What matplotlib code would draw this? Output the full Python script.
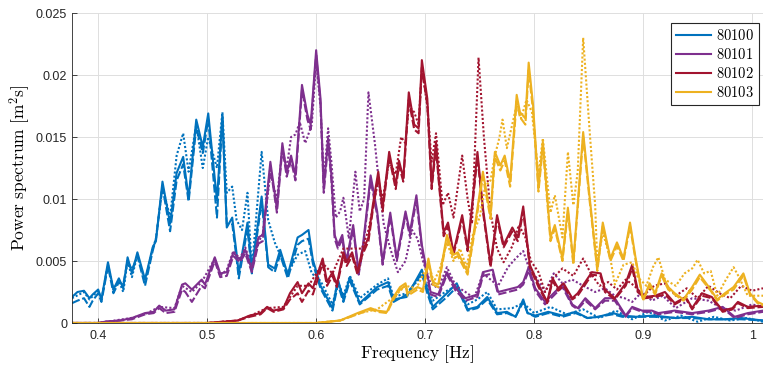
import matplotlib
matplotlib.use('Agg')
import matplotlib.pyplot as plt
from matplotlib.lines import Line2D

plt.rcParams['mathtext.fontset'] = 'cm'
plt.rcParams['font.family'] = ['Liberation Sans', 'DejaVu Sans']

labels = ['80100', '80101', '80102', '80103']
colors = ['#0072BD', '#7E2F8E', '#A2142F', '#EDB120']

x_ticks = [0.4, 0.5, 0.6, 0.7, 0.8, 0.9, 1.0]
x_tick_labels = ['0.4', '0.5', '0.6', '0.7', '0.8', '0.9', '1']
y_ticks = [0, 0.005, 0.01, 0.015, 0.02, 0.025]
y_tick_labels = ['0', '0.005', '0.01', '0.015', '0.02', '0.025']

# ---------------- 80100 ----------------
s80100_solid = [
    (0.376, 0.0021), (0.381, 0.0025), (0.387, 0.0026), (0.392, 0.0020), (0.395, 0.0023),
    (0.400, 0.0027), (0.403, 0.0019), (0.409, 0.0049), (0.414, 0.0027), (0.419, 0.0036),
    (0.423, 0.0028), (0.427, 0.0053), (0.431, 0.0040), (0.436, 0.0057), (0.443, 0.0035),
    (0.450, 0.0061), (0.453, 0.0066), (0.459, 0.0114), (0.466, 0.0080), (0.472, 0.0121),
    (0.478, 0.0134), (0.483, 0.0101), (0.490, 0.0164), (0.496, 0.0142), (0.501, 0.0169),
    (0.509, 0.0099), (0.514, 0.0168), (0.518, 0.0077), (0.523, 0.0085), (0.527, 0.0056),
    (0.529, 0.0040), (0.537, 0.0081), (0.541, 0.0044), (0.550, 0.0102), (0.556, 0.0047),
    (0.562, 0.0044), (0.567, 0.0059), (0.574, 0.0039), (0.583, 0.0069), (0.587, 0.0071),
    (0.593, 0.0075), (0.597, 0.0051), (0.604, 0.0030), (0.615, 0.0012), (0.620, 0.0035),
    (0.625, 0.0019), (0.631, 0.0037), (0.640, 0.0016), (0.656, 0.0029), (0.666, 0.0033),
    (0.671, 0.0019), (0.683, 0.0021), (0.697, 0.0043), (0.702, 0.0027), (0.707, 0.0013),
    (0.720, 0.0024), (0.729, 0.0032), (0.739, 0.0011), (0.748, 0.0013), (0.757, 0.0021),
    (0.766, 0.0008), (0.775, 0.0009), (0.783, 0.0005), (0.790, 0.0019), (0.794, 0.0008),
    (0.801, 0.0006), (0.813, 0.0009), (0.826, 0.0006), (0.838, 0.0009), (0.849, 0.0004),
    (0.859, 0.0005), (0.872, 0.0008), (0.881, 0.0006), (0.893, 0.0005), (0.910, 0.0006),
    (0.930, 0.0004), (0.945, 0.0005), (0.960, 0.0003), (0.975, 0.0003), (0.990, 0.0004),
    (1.010, 0.0002)]
s80100_dashed = [
    (0.376, 0.0016), (0.381, 0.0018), (0.387, 0.0020), (0.392, 0.0013), (0.395, 0.0018),
    (0.400, 0.0024), (0.403, 0.0017), (0.409, 0.0046), (0.414, 0.0024), (0.419, 0.0033),
    (0.423, 0.0031), (0.427, 0.0050), (0.431, 0.0043), (0.436, 0.0054), (0.443, 0.0030),
    (0.450, 0.0058), (0.453, 0.0068), (0.459, 0.0110), (0.466, 0.0074), (0.472, 0.0115),
    (0.478, 0.0128), (0.483, 0.0098), (0.490, 0.0158), (0.496, 0.0137), (0.501, 0.0164),
    (0.509, 0.0085), (0.514, 0.0165), (0.518, 0.0080), (0.523, 0.0080), (0.527, 0.0052),
    (0.529, 0.0036), (0.537, 0.0076), (0.541, 0.0040), (0.550, 0.0098), (0.556, 0.0045),
    (0.562, 0.0041), (0.567, 0.0055), (0.574, 0.0036), (0.583, 0.0063), (0.587, 0.0066),
    (0.593, 0.0068), (0.597, 0.0048), (0.604, 0.0028), (0.615, 0.0010), (0.620, 0.0031),
    (0.625, 0.0017), (0.631, 0.0034), (0.640, 0.0015), (0.656, 0.0027), (0.666, 0.0030),
    (0.671, 0.0017), (0.683, 0.0023), (0.697, 0.0040), (0.702, 0.0024), (0.707, 0.0011),
    (0.720, 0.0021), (0.729, 0.0029), (0.739, 0.0010), (0.748, 0.0012), (0.757, 0.0019),
    (0.766, 0.0007), (0.775, 0.0008), (0.783, 0.0005), (0.790, 0.0017), (0.794, 0.0008),
    (0.801, 0.0005), (0.813, 0.0008), (0.826, 0.0005), (0.838, 0.0008), (0.849, 0.0004),
    (0.859, 0.0005), (0.872, 0.0007), (0.881, 0.0005), (0.893, 0.0005), (0.910, 0.0005),
    (0.930, 0.0004), (0.945, 0.0004), (0.960, 0.0003), (0.975, 0.0003), (0.990, 0.0003),
    (1.010, 0.0002)]
s80100_dotted = [
    (0.376, 0.0020), (0.387, 0.0025), (0.392, 0.0019), (0.400, 0.0026), (0.403, 0.0019),
    (0.409, 0.0047), (0.414, 0.0027), (0.419, 0.0034), (0.423, 0.0025), (0.427, 0.0050),
    (0.431, 0.0037), (0.436, 0.0055), (0.443, 0.0033), (0.450, 0.0060), (0.453, 0.0068),
    (0.459, 0.0110), (0.466, 0.0085), (0.472, 0.0135), (0.478, 0.0153), (0.483, 0.0122),
    (0.490, 0.0160), (0.496, 0.0125), (0.501, 0.0150), (0.509, 0.0125), (0.514, 0.0170),
    (0.518, 0.0105), (0.523, 0.0110), (0.527, 0.0083), (0.532, 0.0075), (0.537, 0.0105),
    (0.541, 0.0043), (0.550, 0.0138), (0.556, 0.0083), (0.562, 0.0065), (0.567, 0.0055),
    (0.574, 0.0040), (0.583, 0.0055), (0.590, 0.0058), (0.596, 0.0040), (0.604, 0.0034),
    (0.615, 0.0015), (0.620, 0.0033), (0.625, 0.0022), (0.631, 0.0038), (0.640, 0.0020),
    (0.656, 0.0031), (0.666, 0.0036), (0.671, 0.0021), (0.683, 0.0024), (0.697, 0.0038),
    (0.702, 0.0030), (0.707, 0.0018), (0.720, 0.0026), (0.729, 0.0030), (0.739, 0.0015),
    (0.748, 0.0019), (0.757, 0.0025), (0.766, 0.0011), (0.780, 0.0012), (0.790, 0.0016),
    (0.800, 0.0008), (0.815, 0.0013), (0.830, 0.0007), (0.845, 0.0011), (0.860, 0.0004),
    (0.875, 0.0010), (0.890, 0.0003), (0.905, 0.0009), (0.920, 0.0002), (0.935, 0.0006),
    (0.950, 0.0001), (0.965, 0.0005), (0.980, 0.0002), (0.995, 0.0004), (1.010, 0.0001)]

# ---------------- 80101 ----------------
s80101_solid = [
    (0.376, 0.0000), (0.400, 0.0000), (0.406, 0.0001), (0.420, 0.0002), (0.431, 0.0004),
    (0.443, 0.0008), (0.451, 0.0009), (0.456, 0.0014), (0.462, 0.0010), (0.470, 0.0011),
    (0.477, 0.0031), (0.480, 0.0032), (0.486, 0.0027), (0.495, 0.0035), (0.498, 0.0031),
    (0.507, 0.0053), (0.512, 0.0040), (0.518, 0.0041), (0.524, 0.0057), (0.530, 0.0051),
    (0.535, 0.0059), (0.541, 0.0043), (0.547, 0.0069), (0.551, 0.0071), (0.558, 0.0130),
    (0.564, 0.0092), (0.569, 0.0145), (0.573, 0.0121), (0.577, 0.0135), (0.581, 0.0119),
    (0.587, 0.0192), (0.592, 0.0168), (0.595, 0.0160), (0.600, 0.0220), (0.604, 0.0181),
    (0.607, 0.0109), (0.611, 0.0149), (0.614, 0.0119), (0.617, 0.0071), (0.620, 0.0063),
    (0.624, 0.0071), (0.627, 0.0052), (0.629, 0.0056), (0.634, 0.0079), (0.639, 0.0041),
    (0.643, 0.0063), (0.650, 0.0119), (0.656, 0.0090), (0.661, 0.0049), (0.668, 0.0089),
    (0.674, 0.0052), (0.682, 0.0090), (0.686, 0.0073), (0.692, 0.0103), (0.697, 0.0063),
    (0.705, 0.0025), (0.712, 0.0023), (0.720, 0.0041), (0.728, 0.0028), (0.737, 0.0020),
    (0.748, 0.0023), (0.753, 0.0041), (0.762, 0.0043), (0.767, 0.0025), (0.776, 0.0027),
    (0.785, 0.0029), (0.790, 0.0033), (0.795, 0.0045), (0.801, 0.0028), (0.810, 0.0017),
    (0.819, 0.0025), (0.826, 0.0031), (0.835, 0.0015), (0.840, 0.0012), (0.847, 0.0020),
    (0.856, 0.0012), (0.865, 0.0020), (0.874, 0.0020), (0.884, 0.0006), (0.890, 0.0013),
    (0.899, 0.0010), (0.908, 0.0010), (0.914, 0.0008), (0.929, 0.0010), (0.945, 0.0008),
    (0.960, 0.0010), (0.973, 0.0013), (0.984, 0.0005), (0.996, 0.0008), (1.010, 0.0010)]
s80101_dashed = [
    (0.376, 0.0000), (0.400, 0.0000), (0.406, 0.0001), (0.420, 0.0002), (0.431, 0.0003),
    (0.443, 0.0007), (0.451, 0.0008), (0.456, 0.0012), (0.462, 0.0008), (0.470, 0.0009),
    (0.477, 0.0027), (0.480, 0.0025), (0.486, 0.0017), (0.495, 0.0030), (0.498, 0.0028),
    (0.507, 0.0050), (0.512, 0.0037), (0.518, 0.0038), (0.524, 0.0054), (0.530, 0.0049),
    (0.535, 0.0056), (0.541, 0.0041), (0.547, 0.0064), (0.551, 0.0066), (0.558, 0.0126),
    (0.564, 0.0089), (0.569, 0.0141), (0.573, 0.0118), (0.577, 0.0131), (0.581, 0.0115),
    (0.587, 0.0188), (0.592, 0.0164), (0.595, 0.0156), (0.600, 0.0216), (0.604, 0.0177),
    (0.607, 0.0105), (0.611, 0.0145), (0.614, 0.0115), (0.617, 0.0068), (0.620, 0.0060),
    (0.624, 0.0068), (0.627, 0.0049), (0.629, 0.0053), (0.634, 0.0076), (0.639, 0.0039),
    (0.643, 0.0060), (0.650, 0.0115), (0.656, 0.0087), (0.661, 0.0047), (0.668, 0.0086),
    (0.674, 0.0050), (0.682, 0.0087), (0.686, 0.0070), (0.692, 0.0099), (0.697, 0.0060),
    (0.705, 0.0023), (0.712, 0.0021), (0.720, 0.0039), (0.728, 0.0026), (0.737, 0.0018),
    (0.748, 0.0021), (0.753, 0.0038), (0.762, 0.0040), (0.767, 0.0023), (0.776, 0.0025),
    (0.785, 0.0027), (0.790, 0.0031), (0.795, 0.0042), (0.801, 0.0026), (0.810, 0.0015),
    (0.819, 0.0023), (0.826, 0.0029), (0.835, 0.0014), (0.840, 0.0011), (0.847, 0.0018),
    (0.856, 0.0011), (0.865, 0.0018), (0.874, 0.0018), (0.884, 0.0005), (0.890, 0.0012),
    (0.899, 0.0009), (0.908, 0.0009), (0.914, 0.0007), (0.929, 0.0009), (0.945, 0.0007),
    (0.960, 0.0009), (0.973, 0.0012), (0.984, 0.0004), (0.996, 0.0007), (1.010, 0.0009)]
s80101_dotted = [
    (0.376, 0.0000), (0.400, 0.0000), (0.430, 0.0004), (0.443, 0.0007), (0.456, 0.0013),
    (0.470, 0.0012), (0.477, 0.0030), (0.486, 0.0025), (0.495, 0.0033), (0.507, 0.0052),
    (0.512, 0.0038), (0.518, 0.0043), (0.524, 0.0058), (0.530, 0.0052), (0.535, 0.0061),
    (0.541, 0.0045), (0.547, 0.0065), (0.551, 0.0072), (0.558, 0.0120), (0.564, 0.0100),
    (0.569, 0.0140), (0.573, 0.0125), (0.577, 0.0150), (0.581, 0.0152), (0.585, 0.0162),
    (0.590, 0.0145), (0.596, 0.0160), (0.600, 0.0210), (0.604, 0.0175), (0.607, 0.0115),
    (0.611, 0.0157), (0.614, 0.0130), (0.618, 0.0085), (0.622, 0.0090), (0.625, 0.0101),
    (0.630, 0.0068), (0.636, 0.0122), (0.640, 0.0090), (0.644, 0.0100), (0.648, 0.0186),
    (0.654, 0.0144), (0.658, 0.0110), (0.662, 0.0080), (0.668, 0.0060), (0.675, 0.0041),
    (0.682, 0.0050), (0.688, 0.0075), (0.693, 0.0068), (0.698, 0.0050), (0.705, 0.0032),
    (0.712, 0.0028), (0.720, 0.0045), (0.728, 0.0030), (0.737, 0.0025), (0.745, 0.0020),
    (0.753, 0.0040), (0.760, 0.0035), (0.767, 0.0030), (0.776, 0.0045), (0.783, 0.0052),
    (0.790, 0.0058), (0.795, 0.0045), (0.801, 0.0038), (0.810, 0.0025), (0.818, 0.0040),
    (0.826, 0.0032), (0.835, 0.0035), (0.845, 0.0030), (0.856, 0.0025), (0.865, 0.0028),
    (0.874, 0.0022), (0.883, 0.0020), (0.890, 0.0017), (0.899, 0.0025), (0.908, 0.0018),
    (0.918, 0.0022), (0.930, 0.0012), (0.945, 0.0020), (0.960, 0.0018), (0.972, 0.0012),
    (0.985, 0.0010), (1.000, 0.0015), (1.010, 0.0013)]

# ---------------- 80102 ----------------
s80102_solid = [
    (0.376, 0.0000), (0.500, 0.0000), (0.528, 0.0002), (0.539, 0.0006), (0.549, 0.0008),
    (0.555, 0.0013), (0.561, 0.0010), (0.570, 0.0012), (0.576, 0.0024), (0.583, 0.0033),
    (0.587, 0.0024), (0.593, 0.0032), (0.597, 0.0028), (0.606, 0.0052), (0.610, 0.0033),
    (0.615, 0.0041), (0.619, 0.0031), (0.625, 0.0057), (0.628, 0.0049), (0.633, 0.0057),
    (0.638, 0.0041), (0.642, 0.0057), (0.648, 0.0069), (0.652, 0.0095), (0.657, 0.0122),
    (0.661, 0.0093), (0.667, 0.0138), (0.673, 0.0111), (0.676, 0.0131), (0.680, 0.0117),
    (0.685, 0.0186), (0.690, 0.0160), (0.694, 0.0157), (0.697, 0.0212), (0.702, 0.0181),
    (0.706, 0.0111), (0.710, 0.0146), (0.712, 0.0122), (0.717, 0.0073), (0.721, 0.0081),
    (0.726, 0.0057), (0.734, 0.0087), (0.739, 0.0060), (0.748, 0.0138), (0.753, 0.0093),
    (0.760, 0.0047), (0.766, 0.0087), (0.772, 0.0063), (0.780, 0.0077), (0.785, 0.0069),
    (0.790, 0.0094), (0.796, 0.0047), (0.804, 0.0031), (0.812, 0.0017), (0.817, 0.0036),
    (0.822, 0.0028), (0.827, 0.0032), (0.835, 0.0020), (0.840, 0.0024), (0.853, 0.0041),
    (0.861, 0.0040), (0.865, 0.0027), (0.874, 0.0020), (0.884, 0.0032), (0.890, 0.0047),
    (0.895, 0.0027), (0.902, 0.0021), (0.911, 0.0022), (0.920, 0.0025), (0.929, 0.0016),
    (0.939, 0.0021), (0.945, 0.0012), (0.954, 0.0024), (0.963, 0.0021), (0.973, 0.0010),
    (0.982, 0.0012), (0.987, 0.0017), (0.996, 0.0013), (1.010, 0.0014)]
s80102_dashed = [
    (0.376, 0.0000), (0.500, 0.0000), (0.528, 0.0002), (0.539, 0.0005), (0.549, 0.0007),
    (0.555, 0.0012), (0.561, 0.0009), (0.570, 0.0011), (0.576, 0.0019), (0.583, 0.0024),
    (0.587, 0.0017), (0.593, 0.0026), (0.597, 0.0023), (0.606, 0.0048), (0.610, 0.0030),
    (0.615, 0.0038), (0.619, 0.0029), (0.625, 0.0054), (0.628, 0.0046), (0.633, 0.0054),
    (0.638, 0.0039), (0.642, 0.0054), (0.648, 0.0066), (0.652, 0.0091), (0.657, 0.0118),
    (0.661, 0.0090), (0.667, 0.0134), (0.673, 0.0108), (0.676, 0.0127), (0.680, 0.0114),
    (0.685, 0.0180), (0.690, 0.0156), (0.694, 0.0153), (0.697, 0.0206), (0.702, 0.0176),
    (0.706, 0.0108), (0.710, 0.0142), (0.712, 0.0119), (0.717, 0.0070), (0.721, 0.0078),
    (0.726, 0.0055), (0.734, 0.0084), (0.739, 0.0058), (0.748, 0.0134), (0.753, 0.0090),
    (0.760, 0.0045), (0.766, 0.0084), (0.772, 0.0061), (0.780, 0.0074), (0.785, 0.0066),
    (0.790, 0.0090), (0.796, 0.0045), (0.804, 0.0029), (0.812, 0.0016), (0.817, 0.0034),
    (0.822, 0.0026), (0.827, 0.0030), (0.835, 0.0019), (0.840, 0.0022), (0.853, 0.0039),
    (0.861, 0.0038), (0.865, 0.0025), (0.874, 0.0019), (0.884, 0.0030), (0.890, 0.0044),
    (0.895, 0.0025), (0.902, 0.0020), (0.911, 0.0021), (0.920, 0.0023), (0.929, 0.0015),
    (0.939, 0.0020), (0.945, 0.0011), (0.954, 0.0022), (0.963, 0.0020), (0.973, 0.0009),
    (0.982, 0.0011), (0.987, 0.0016), (0.996, 0.0012), (1.010, 0.0013)]
s80102_dotted = [
    (0.376, 0.0000), (0.500, 0.0000), (0.528, 0.0002), (0.540, 0.0006), (0.555, 0.0012),
    (0.570, 0.0013), (0.583, 0.0030), (0.593, 0.0030), (0.606, 0.0048), (0.615, 0.0040),
    (0.625, 0.0060), (0.633, 0.0060), (0.642, 0.0060), (0.648, 0.0075), (0.657, 0.0115),
    (0.661, 0.0100), (0.667, 0.0130), (0.673, 0.0120), (0.678, 0.0150), (0.682, 0.0145),
    (0.685, 0.0175), (0.690, 0.0170), (0.694, 0.0160), (0.697, 0.0205), (0.702, 0.0175),
    (0.706, 0.0130), (0.710, 0.0153), (0.716, 0.0095), (0.721, 0.0105), (0.726, 0.0085),
    (0.734, 0.0135), (0.739, 0.0100), (0.743, 0.0080), (0.749, 0.0214), (0.754, 0.0149),
    (0.760, 0.0089), (0.766, 0.0060), (0.772, 0.0049), (0.780, 0.0062), (0.786, 0.0079),
    (0.792, 0.0069), (0.797, 0.0050), (0.804, 0.0041), (0.810, 0.0025), (0.817, 0.0036),
    (0.826, 0.0044), (0.836, 0.0038), (0.845, 0.0052), (0.852, 0.0040), (0.860, 0.0030),
    (0.868, 0.0033), (0.876, 0.0027), (0.884, 0.0035), (0.892, 0.0030), (0.900, 0.0022),
    (0.910, 0.0030), (0.920, 0.0032), (0.930, 0.0022), (0.940, 0.0028), (0.950, 0.0020),
    (0.960, 0.0030), (0.970, 0.0024), (0.980, 0.0020), (0.990, 0.0030), (1.000, 0.0026),
    (1.010, 0.0028)]

# ---------------- 80103 ----------------
s80103_solid = [
    (0.376, 0.0000), (0.600, 0.0000), (0.622, 0.0002), (0.638, 0.0008), (0.650, 0.0012),
    (0.656, 0.0010), (0.665, 0.0009), (0.671, 0.0021), (0.677, 0.0029), (0.682, 0.0032),
    (0.684, 0.0024), (0.693, 0.0029), (0.698, 0.0027), (0.703, 0.0052), (0.707, 0.0033),
    (0.712, 0.0031), (0.720, 0.0071), (0.726, 0.0055), (0.730, 0.0057), (0.739, 0.0041),
    (0.744, 0.0069), (0.753, 0.0122), (0.760, 0.0087), (0.764, 0.0138), (0.769, 0.0127),
    (0.773, 0.0135), (0.778, 0.0114), (0.784, 0.0184), (0.787, 0.0170), (0.792, 0.0165),
    (0.795, 0.0210), (0.799, 0.0176), (0.804, 0.0109), (0.808, 0.0146), (0.815, 0.0069),
    (0.819, 0.0079), (0.826, 0.0052), (0.831, 0.0093), (0.836, 0.0049), (0.845, 0.0154),
    (0.851, 0.0101), (0.858, 0.0044), (0.863, 0.0081), (0.870, 0.0052), (0.876, 0.0065),
    (0.882, 0.0052), (0.888, 0.0081), (0.893, 0.0053), (0.900, 0.0019), (0.906, 0.0032),
    (0.911, 0.0024), (0.917, 0.0040), (0.923, 0.0029), (0.929, 0.0024), (0.937, 0.0019),
    (0.945, 0.0029), (0.952, 0.0039), (0.962, 0.0027), (0.968, 0.0019), (0.975, 0.0024),
    (0.983, 0.0029), (0.992, 0.0040), (0.998, 0.0024), (1.005, 0.0017), (1.010, 0.0015)]
s80103_dashed = [
    (0.376, 0.0000), (0.600, 0.0000), (0.622, 0.0002), (0.638, 0.0007), (0.650, 0.0011),
    (0.656, 0.0009), (0.665, 0.0008), (0.671, 0.0019), (0.677, 0.0027), (0.682, 0.0030),
    (0.684, 0.0022), (0.693, 0.0027), (0.698, 0.0025), (0.703, 0.0049), (0.707, 0.0031),
    (0.712, 0.0029), (0.720, 0.0068), (0.726, 0.0052), (0.730, 0.0054), (0.739, 0.0039),
    (0.744, 0.0066), (0.753, 0.0118), (0.760, 0.0084), (0.764, 0.0134), (0.769, 0.0123),
    (0.773, 0.0131), (0.778, 0.0110), (0.784, 0.0179), (0.787, 0.0166), (0.792, 0.0160),
    (0.795, 0.0204), (0.799, 0.0171), (0.804, 0.0106), (0.808, 0.0142), (0.815, 0.0066),
    (0.819, 0.0076), (0.826, 0.0050), (0.831, 0.0090), (0.836, 0.0047), (0.845, 0.0150),
    (0.851, 0.0098), (0.858, 0.0042), (0.863, 0.0078), (0.870, 0.0050), (0.876, 0.0062),
    (0.882, 0.0050), (0.888, 0.0078), (0.893, 0.0051), (0.900, 0.0018), (0.906, 0.0030),
    (0.911, 0.0023), (0.917, 0.0038), (0.923, 0.0027), (0.929, 0.0023), (0.937, 0.0018),
    (0.945, 0.0027), (0.952, 0.0037), (0.962, 0.0026), (0.968, 0.0018), (0.975, 0.0023),
    (0.983, 0.0027), (0.992, 0.0038), (0.998, 0.0023), (1.005, 0.0016), (1.010, 0.0014)]
s80103_dotted = [
    (0.376, 0.0000), (0.600, 0.0000), (0.622, 0.0002), (0.640, 0.0008), (0.656, 0.0011),
    (0.670, 0.0020), (0.682, 0.0030), (0.692, 0.0028), (0.703, 0.0048), (0.708, 0.0033),
    (0.714, 0.0045), (0.720, 0.0065), (0.726, 0.0050), (0.732, 0.0060), (0.738, 0.0045),
    (0.744, 0.0072), (0.750, 0.0085), (0.755, 0.0110), (0.760, 0.0115), (0.764, 0.0135),
    (0.768, 0.0149), (0.771, 0.0164), (0.775, 0.0141), (0.784, 0.0176), (0.788, 0.0165),
    (0.793, 0.0180), (0.798, 0.0170), (0.804, 0.0120), (0.808, 0.0149), (0.815, 0.0089),
    (0.819, 0.0103), (0.826, 0.0069), (0.831, 0.0138), (0.836, 0.0095), (0.840, 0.0122),
    (0.845, 0.0230), (0.851, 0.0154), (0.856, 0.0095), (0.858, 0.0047), (0.863, 0.0073),
    (0.870, 0.0052), (0.874, 0.0031), (0.882, 0.0047), (0.890, 0.0049), (0.895, 0.0037),
    (0.903, 0.0030), (0.909, 0.0045), (0.914, 0.0053), (0.920, 0.0035), (0.930, 0.0030),
    (0.938, 0.0040), (0.945, 0.0044), (0.950, 0.0051), (0.956, 0.0040), (0.962, 0.0042),
    (0.968, 0.0022), (0.976, 0.0035), (0.983, 0.0045), (0.988, 0.0037), (0.996, 0.0022),
    (1.010, 0.0022)]

series = [
    (s80100_solid, s80100_dashed, s80100_dotted),
    (s80101_solid, s80101_dashed, s80101_dotted),
    (s80102_solid, s80102_dashed, s80102_dotted),
    (s80103_solid, s80103_dashed, s80103_dotted),
]

fig = plt.figure(figsize=(7.63, 3.70), dpi=100)
ax = fig.add_axes([72 / 763, 1 - 323 / 370, 1 - 72 / 763, 310 / 370])

lw = 1.5
styles = ['-', (0, (4, 1.3)), (0, (1, 1))]
for (sol, das, dot), c in zip(series, colors):
    for data, ls in zip((sol, das, dot), styles):
        xs = [p[0] for p in data]
        ys = [p[1] for p in data]
        ax.plot(xs, ys, color=c, lw=lw, linestyle=ls, solid_joinstyle='round')

ax.set_xlim(0.376, 1.010)
ax.set_ylim(0, 0.025)
ax.set_xticks(x_ticks)
ax.set_xticklabels(x_tick_labels)
ax.set_yticks(y_ticks)
ax.set_yticklabels(y_tick_labels)
ax.tick_params(direction='in', length=3.5, width=0.6, colors='#262626',
               labelsize=9, top=False, right=False)
ax.tick_params(axis='x', pad=5)
ax.grid(True, color='#dedede', lw=0.7)
ax.set_axisbelow(True)
for s in ['top', 'right']:
    ax.spines[s].set_visible(False)
for s in ['left', 'bottom']:
    ax.spines[s].set_color('#262626')
    ax.spines[s].set_linewidth(0.6)

ax.set_xlabel(r'$\mathrm{Frequency\ [Hz]}$', fontsize=12.5, labelpad=1)
ax.set_ylabel(r'$\mathrm{Power\ spectrum\ [m^2s]}$', fontsize=12.5, labelpad=2)

handles = [Line2D([], [], color=c, lw=lw) for c in colors]
leg = ax.legend(handles, [r'$\mathrm{%s}$' % l for l in labels], loc='upper right',
                bbox_to_anchor=(1 - 4 / 691, 1 - 10 / 310), fontsize=10.5,
                frameon=True, fancybox=False, framealpha=1, edgecolor='#262626',
                handlelength=2.4, handletextpad=0.35, labelspacing=0.28,
                borderpad=0.35, borderaxespad=0.0)
leg.get_frame().set_linewidth(0.8)

fig.savefig('out.png', dpi=100)
